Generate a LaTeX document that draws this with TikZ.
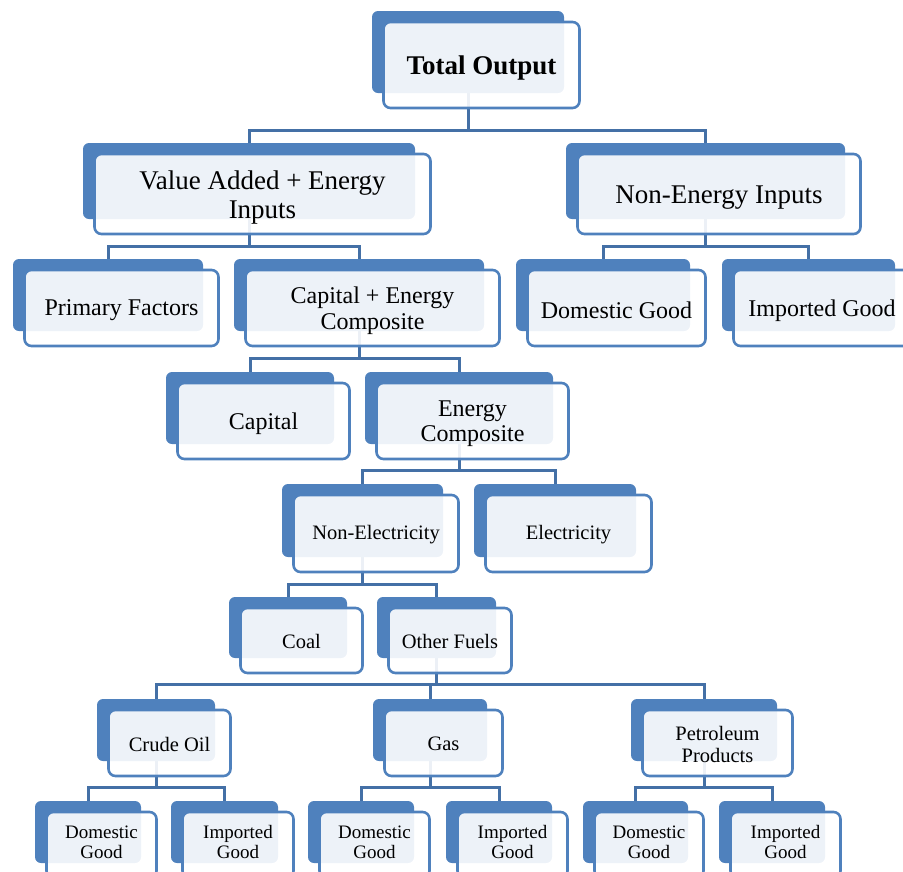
\documentclass[tikz,border=0pt]{standalone}
\usepackage{fontspec}
\setmainfont{Liberation Serif}
\pgfdeclarelayer{bg}
\pgfsetlayers{bg,main}
\definecolor{cgeblue}{HTML}{4F81BD}
\definecolor{cgeline}{HTML}{4470A6}
\tikzset{
  backbox/.style={fill=cgeblue, rounded corners=6pt, inner sep=0pt},
  frontbox/.style={draw=cgeblue, line width=2.6pt, fill=white, fill opacity=.9,
    rounded corners=7pt, inner sep=0pt},
  link/.style={draw=cgeline, line width=3pt},
  lvla/.style={font=\fontsize{27}{29}\selectfont, yshift=-3.5pt},
  lvlb/.style={font=\fontsize{24}{25.5}\selectfont, yshift=-2.5pt},
  lvlc/.style={font=\fontsize{20.5}{22}\selectfont, yshift=-1pt},
  lvld/.style={font=\fontsize{19}{20}\selectfont, yshift=3pt}
}
% plate + card + label: [font] {name} {centre x} {centre y} {width} {height} {text}
\newcommand{\card}[7][]{%
  \node[backbox, minimum width=#5pt, minimum height=#6pt] (#2b) at (#3,#4) {};
  \node[frontbox, minimum width=#5pt+4pt, minimum height=#6pt+4pt] (#2) at ([shift={(13.5,13)}]#2b) {};
  \node[align=center, inner sep=0pt, #1] (#2t) at (#2) {#7};
}
\begin{document}
\begin{tikzpicture}[x=1pt, y=-1pt]
\useasboundingbox (0,0) rectangle (903,871);
\clip (0,0) rectangle (903,871);
% level 1 and 2
\card[lvla]{tot}{468}{52}{192}{82}{\bfseries Total Output}
\card[lvla]{va}{249}{181}{332}{76}{Value Added + Energy\\Inputs}
\card[lvla]{ne}{705.5}{181}{279}{76}{Non-Energy Inputs}
% level 3
\card[lvlb]{pf}{108}{295}{190}{72}{Primary Factors}
\card[lvlb]{ke}{359}{295}{250}{72}{Capital + Energy\\Composite}
\card[lvlb]{dg}{603}{295}{174}{72}{Domestic Good}
\card[lvlb]{ig}{808.5}{295}{173}{72}{Imported Good}
% level 4 and 5
\card[lvlb]{cap}{250}{408}{168}{72}{Capital}
\card[lvlb]{en}{459}{408}{188}{72}{Energy\\Composite}
\card[lvlc]{nel}{362.5}{520.5}{161}{73}{Non-Electricity}
\card[lvlc]{el}{555}{520.5}{162}{73}{Electricity}
% fuels
\card[lvlc]{coal}{288}{627.5}{118}{61}{Coal}
\card[lvlc]{of}{436.5}{627.5}{119}{61}{Other Fuels}
\card[lvlc]{oil}{156}{730}{118}{62}{Crude Oil}
\card[lvlc]{gas}{430}{730}{114}{62}{Gas}
\card[lvlc]{pp}{704}{730}{146}{62}{Petroleum\\Products}
% origin of each fuel
\card[lvld]{oild}{88}{832}{106}{62}{Domestic\\Good}
\card[lvld]{oili}{224.5}{832}{107}{62}{Imported\\Good}
\card[lvld]{gasd}{361}{832}{106}{62}{Domestic\\Good}
\card[lvld]{gasi}{499}{832}{106}{62}{Imported\\Good}
\card[lvld]{ppd}{635.5}{832}{105}{62}{Domestic\\Good}
\card[lvld]{ppi}{772}{832}{106}{62}{Imported\\Good}
\begin{pgfonlayer}{bg}
\foreach \c in {vab,neb} \draw[link] (totb.south) -- ++(0,37) -| (\c.north);
\foreach \c in {pfb,keb} \draw[link] (vab.south) -- ++(0,27) -| (\c.north);
\foreach \c in {dgb,igb} \draw[link] (neb.south) -- ++(0,27) -| (\c.north);
\foreach \c in {capb,enb} \draw[link] (keb.south) -- ++(0,27) -| (\c.north);
\foreach \c in {nelb,elb} \draw[link] (enb.south) -- ++(0,26) -| (\c.north);
\foreach \c in {coalb,ofb} \draw[link] (nelb.south) -- ++(0,27) -| (\c.north);
\foreach \c in {oilb,gasb,ppb} \draw[link] (ofb.south) -- ++(0,26) -| (\c.north);
\foreach \c in {oildb,oilib} \draw[link] (oilb.south) -- ++(0,26) -| (\c.north);
\foreach \c in {gasdb,gasib} \draw[link] (gasb.south) -- ++(0,26) -| (\c.north);
\foreach \c in {ppdb,ppib} \draw[link] (ppb.south) -- ++(0,26) -| (\c.north);
\end{pgfonlayer}
\end{tikzpicture}
\end{document}
